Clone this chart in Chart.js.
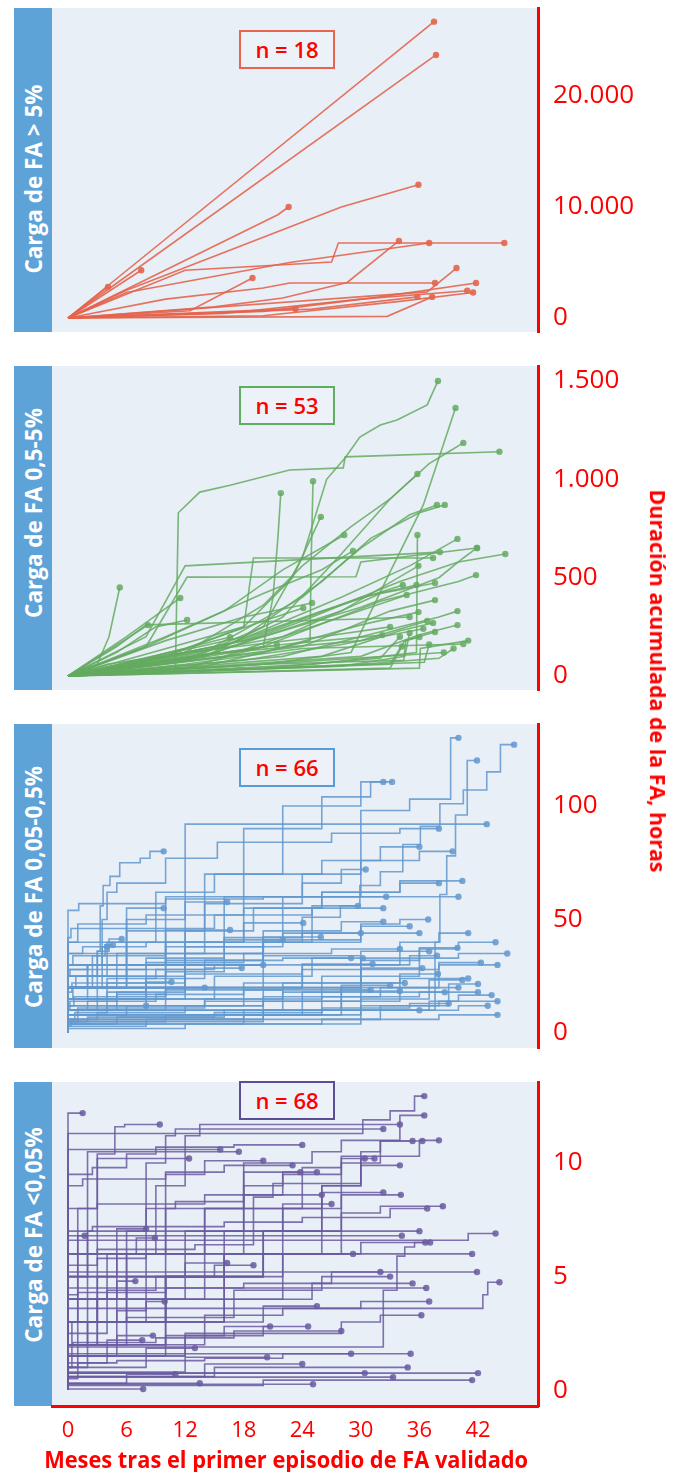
<!DOCTYPE html>
<html lang="es">
<head>
<meta charset="UTF-8">
<title>Duración acumulada de la FA</title>
<script src="https://cdn.jsdelivr.net/npm/chart.js@4.4.1/dist/chart.umd.min.js"></script>
<style>
    body { margin: 0; background: #fff; font-family: "Open Sans", sans-serif; }
    #page { position: relative; width: 681px; height: 1472px; overflow: hidden; }
    canvas { position: absolute; left: 0; }
    .band { position: absolute; left: 14px; width: 38px; height: 324px; background: #5da3d8; }
    .band span {
        position: absolute; left: 19px; white-space: nowrap; color: #fff;
        font-weight: 700; font-size: 22.5px; transform: translate(-50%, -50%) rotate(-90deg);
    }
    .nbox {
        position: absolute; left: 239px; width: 92px; height: 35px; border: 2px solid;
        background: #edf2f8; color: #ff0000; font-weight: 600; font-size: 22px;
        text-align: center; line-height: 35px; z-index: 5;
    }
    .title { position: absolute; color: #ff0000; font-weight: 700; white-space: nowrap; }
</style>
</head>
<body>
<div id="page">
    <div class="band" style="top:8px"><span style="top:171px">Carga de FA &gt; 5%</span></div>
    <div class="band" style="top:366px"><span style="top:147px">Carga de FA 0,5-5%</span></div>
    <div class="band" style="top:724px"><span style="top:163px">Carga de FA 0,05-0,5%</span></div>
    <div class="band" style="top:1082px"><span style="top:153px">Carga de FA &lt;0,05%</span></div>

    <canvas id="c1" width="681" height="404" style="top:-32px"></canvas>
    <canvas id="c2" width="681" height="404" style="top:326px"></canvas>
    <canvas id="c3" width="681" height="404" style="top:684px"></canvas>
    <canvas id="c4" width="681" height="414" style="top:1042px"></canvas>

    <div class="nbox" style="top:30px; border-color:#e8644e">n = 18</div>
    <div class="nbox" style="top:386px; border-color:#5fad5f">n = 53</div>
    <div class="nbox" style="top:748px; border-color:#5b9bd5">n = 66</div>
    <div class="nbox" style="top:1081px; border-color:#5b4e96">n = 68</div>

    <div class="title" id="ytitle" style="font-size:21px">Duración acumulada de la FA, horas</div>
    <div class="title" id="xtitle" style="font-size:24px">Meses tras el primer episodio de FA validado</div>
</div>

<script>
    // meses en el eje x
    const xTicks = [0, 6, 12, 18, 24, 30, 36, 42];

    // ticks de cada panel (horas)
    const ticksP1 = [0, 10000, 20000];
    const ticksP2 = [0, 500, 1000, 1500];
    const ticksP3 = [0, 50, 100];
    const ticksP4 = [0, 5, 10];

    // cada línea: mes, horas, mes, horas ...  (último punto = fin del seguimiento)
    const linesP1 = [
        [0,0, 37.5,26700],
        [0,0, 37.7,23700],
        [0,0, 21.5,9300, 22.6,10000],
        [0,0, 6,2500, 28,10000, 35.9,12000],
        [0,0, 12,4300, 27,5050, 27.7,6760, 44.7,6760],
        [0,0, 6,2300, 22.7,5000, 37,6760],
        [0,0, 15,1000, 22,1800, 28.6,3200, 33.9,6940],
        [0,0, 7.5,4300],
        [0,0, 4.1,2800],
        [0,0, 12.5,650, 18.9,3600],
        [0,0, 36.8,2350, 39.8,4500],
        [0,0, 10,1700, 20,2700, 22.7,3150, 37.6,3150],
        [0,0, 20,600, 32,1900, 41.8,3150],
        [0,0, 16,400, 30,1700, 40.9,2450],
        [0,0, 20,200, 34,1500, 41.5,2300],
        [0,0, 25,800, 35.8,1900],
        [0,0, 32.7,150, 37.3,1900],
        [0,0, 18,650, 23.3,810]
    ];

    const linesP2 = [
        [0,0, 12,80, 20,250, 24,600, 26.5,1000, 28.4,1110, 29.9,1215, 32,1276, 33.7,1302, 36.8,1378, 37.9,1500],
        [0,0, 11,20, 11.3,830, 13.5,935, 16.6,970, 22.7,1047, 28.2,1058, 28.4,1114, 44.2,1140],
        [0,0, 20,60, 29,120, 33,529, 36.4,870, 39.7,1363],
        [0,0, 14,100, 22,300, 28,620, 33,900, 37,1080, 39,1140, 40.5,1185],
        [0,0, 12,120, 20,360, 24,560, 29,760, 33,900, 35.8,1027],
        [0,0, 14,50, 20,120, 24.8,180, 24.9,560, 25.1,990],
        [0,0, 12,40, 20,150, 21,400, 21.5,700, 21.8,930],
        [0,0, 3,60, 4.2,200, 5.3,450],
        [0,0, 10,100, 18,250, 23,500, 25.9,809],
        [0,0, 15,150, 24,400, 30,650, 35,820, 37.8,870],
        [0,0, 18,200, 26,480, 31,700, 36,830, 38.6,870],
        [0,0, 25,60, 35.7,120, 35.8,717],
        [0,0, 16,150, 28,400, 35,560, 39.9,697],
        [0,0, 20,200, 30,350, 38,500, 40.5,600, 41.9,651],
        [0,0, 14,100, 24,280, 34,480, 40,580, 44.8,620],
        [0,0, 8,200, 12,560, 38.1,630],
        [0,0, 10,200, 20,420, 26,540, 29.2,636],
        [0,0, 15,120, 28,330, 35.9,560],
        [0,0, 20,150, 32,380, 40,480, 41.8,513],
        [0,0, 14,120, 26,330, 34.3,463],
        [0,0, 18,180, 30,400, 35.7,463],
        [0,0, 22,200, 32,420, 37.6,473],
        [0,0, 16,100, 28,300, 34.7,412],
        [0,0, 24,150, 33,330, 37.6,386],
        [0,0, 20,120, 30,260, 35.9,325],
        [0,0, 26,100, 34,230, 37.4,270],
        [0,0, 30,100, 36,210, 39.9,259],
        [0,0, 33,60, 34.5,180, 37.6,224],
        [0,0, 20,60, 34.4,80, 34.6,180, 36,198],
        [0,0, 28,50, 34.5,100, 35,219],
        [0,0, 12,60, 24,140, 40.5,163],
        [0,0, 10,80, 22,160, 32.2,208],
        [0,0, 8.2,259],
        [0,0, 6,200, 11.5,397],
        [0,0, 5,120, 9,250, 12.2,285],
        [0,0, 8,90, 16.6,198],
        [0,0, 12,80, 21.4,158],
        [0,0, 12,140, 20,280, 24.1,346],
        [0,0, 10,180, 18,300, 25,371],
        [0,0, 8,150, 16,330, 22,540, 28.3,717],
        [0,0, 8,150, 12.2,503, 29.5,505, 30,580, 41.9,651],
        [0,0, 18,250, 19,600, 37.4,600],
        [0,0, 5,150, 8,260, 30,290, 35,300],
        [0,0, 36,40, 36.1,140, 41,180],
        [0,0, 30,60, 38,90, 39.5,140],
        [0,0, 20,40, 32,90, 34,200],
        [0,0, 15,30, 36.5,70, 37,160],
        [0,0, 10,30, 20,60, 38.5,120],
        [0,0, 25,30, 33,40, 34.2,150],
        [0,0, 18,80, 28,160, 36.4,240],
        [0,0, 22,100, 30,200, 38,300, 39.9,330],
        [0,0, 5,40, 14,110, 30,180, 36.8,280],
        [0,0, 4,60, 12,120, 26,200, 33,250]
    ];

    const linesP3 = [
        [0,0, 5,10, 12,18, 22,40, 30,60, 35,98, 39.2,103, 40,130],
        [0,0, 20,5, 37.6,10, 38.1,40, 38.8,61, 39.7,78, 40.9,96, 41.9,120],
        [0,0, 12,15, 20,30, 24,40, 27.9,51, 29.9,56, 32,65, 34.3,71, 36.1,83, 38.1,91, 40.5,101, 42.9,107, 44.3,115, 45.7,127],
        [0,0, 8,10, 12,20, 15.3,92, 42.9,92],
        [0,0, 3,10, 3.3,36, 3.6,56, 4.3,65, 5.3,69, 7.4,75, 8.4,77, 9.8,80],
        [0,0, 1.1,54, 10,57, 20,59, 32.6,60],
        [0,0, 6,20, 14,45, 24,57, 30,60, 40,60],
        [0,0, 10,30, 18,60, 26,90, 31,104, 32.3,110.6],
        [0,0, 14,35, 22,70, 30,100, 33.2,110.6],
        [0,0, 16,30, 24,60, 30,70, 36,76, 39.4,80],
        [0,0, 18,40, 26,55, 34,62, 40.4,67],
        [0,0, 10,20, 20,35, 28,45, 32.3,49],
        [0,0, 12,25, 22,38, 30,44, 35,47],
        [0,0, 20,30, 30,40, 34,48, 36.9,50],
        [0,0, 24,20, 34,30, 38,40, 41,44],
        [0,0, 26,15, 36,25, 40,37, 43.8,40],
        [0,0, 18,12, 30,22, 36,32, 39.9,37.5],
        [0,0, 22,10, 30,20, 35,30, 37.8,34],
        [0,0, 15,15, 25,25, 30.2,33],
        [0,0, 10,10, 24,20, 31.2,30.4],
        [0,0, 28,10, 38,20, 42.3,31],
        [0,0, 20,12, 30,20, 36.3,28.6],
        [0,0, 24,10, 34,18, 37.9,26],
        [0,0, 30,8, 37,15, 40.4,23.4],
        [0,0, 32,6, 39,12, 42,21.6],
        [0,0, 30,4, 37,10, 40,14, 43.4,16.7],
        [0,0, 26,8, 34,14, 38.6,18],
        [0,0, 20,6, 30,14, 34.5,22],
        [0,0, 18,4, 28,10, 34,18.5],
        [0,0, 20,20, 25,40, 29.7,56],
        [0,0, 2,15, 3.5,30, 4,38],
        [0,0, 2.5,20, 3.8,34, 4.6,38.8],
        [0,0, 3,25, 4.2,36, 5.5,41.4],
        [0,0, 4,25, 6,40, 9.8,55],
        [0,0, 6,30, 12,50, 16.3,57.7],
        [0,0, 5,20, 10,35, 16.6,45.4],
        [0,0, 10,25, 18,40, 24.1,48.5],
        [0,0, 8,20, 16,33, 22,41],
        [0,0, 12,20, 20,35, 25.9,42.3],
        [0,0, 4,10, 8,18, 10.6,22.5],
        [0,0, 8,15, 14,24, 17.8,28.6],
        [0,0, 0.3,42, 15,46, 25,52, 32.3,55],
        [0,0, 0.5,30, 10,34, 20,38, 30,41, 36,44],
        [0,0, 0.2,25, 8,28, 18,31, 27,35, 34,37],
        [0,0, 0.4,18, 12,22, 24,26, 38,28, 44,30],
        [0,0, 0.6,12, 10,16, 22,19, 34,22, 41,24],
        [0,0, 1,8, 14,11, 26,14, 36,16, 42,18],
        [0,0, 2,5, 16,7, 30,10, 38,12, 44,14],
        [0,0, 0.8,20, 6,25, 14,28, 22,32, 29,33],
        [0,0, 1.5,35, 8,38, 16,40, 24,42, 30,44],
        [0,0, 2,28, 10,30, 20,32, 30,34, 37,36],
        [0,0, 0.2,10, 9,14, 18,17, 28,19, 33,21],
        [0,0, 3,6, 12,9, 20,12, 32,16, 40,20],
        [0,0, 5,4, 15,7, 26,9, 35,11, 39,13],
        [0,0, 3.5,20, 4,50, 5,62, 10,66, 15.3,77, 27,84, 34,88, 38,90],
        [0,0, 6,20, 9,40, 15,62, 26,70, 32,76, 36,82],
        [0,0, 1,40, 8,48, 18,52, 24,60, 28,66, 30.5,72],
        [0,0, 2,20, 12,30, 19,45, 26,55, 34,62, 38,66],
        [0,0, 4,15, 10,22, 16,27, 30,30, 40,33, 45,35],
        [0,0, 1,5, 6,8, 14,12, 22,15, 28,18, 31,19],
        [0,0, 8,3, 18,6, 28,8, 40,10, 43,12],
        [0,0, 0.3,3, 10,5, 24,8, 36,10],
        [0,0, 12,2, 26,4, 38,6, 44,8],
        [0,0, 0.5,15, 4,20, 9,24, 15,28, 20,30],
        [0,0, 2,10, 5,14, 10,17, 14,20],
        [0,0, 0.7,6, 4,9, 8,12]
    ];

    const linesP4 = [
        [0,0, 1.2,12.2, 1.5,12.2],
        [0,0, 3,3, 4.8,10.4, 5.8,11.6, 9.4,11.7],
        [0,0, 3,2, 6,4, 8,7, 10,10, 11,11.2, 14,11.5, 32.3,11.5],
        [0,0, 5,3, 9,6, 12,9, 13.5,11.2, 20,11.7, 34,11.7],
        [0,0, 30.2,11.3, 33,11.9, 35.5,12.3, 36.5,12.95],
        [0,0, 10,4, 18,8, 25,10, 28,10.5, 34,11, 36.5,12.1],
        [0,0, 0.3,10.6, 15.6,10.6],
        [0,0, 2,8, 6,10.5, 17.5,10.5],
        [0,0, 1,5, 3,8, 5,10.2, 12.4,10.2],
        [0,0, 6,2, 10,6, 14,9.5, 20,10.1],
        [0,0, 8,3, 14,6, 18,8, 22,9.6, 23.8,9.6],
        [0,0, 12,4, 18,7, 22,9, 25.5,9.6],
        [0,0, 10,2, 16,5, 22,7, 27,8.2],
        [0,0, 20,5, 26,7, 30,9, 32,10.5, 35.3,10.97],
        [0,0, 22,4, 28,8, 32,10, 36.3,10.97],
        [0,0, 14,4, 24,8, 28,9.8, 30.4,10.2],
        [0,0, 16,3, 26,6, 30,9, 31.4,10.2],
        [0,0, 18,6, 26,8, 32.3,8.7],
        [0,0, 20,5, 28,7, 34.1,8.6],
        [0,0, 0.5,6.8, 34.2,6.8],
        [0,0, 1,3, 1.7,6.8],
        [0,0, 3,3, 5,5, 8,7.1],
        [0,0, 4,4, 7,6, 8.9,6.7],
        [0,0, 6,3, 12,5, 16.3,5.6],
        [0,0, 3,2, 5,4, 6.9,4.8],
        [0,0, 5,2, 8,3.5, 9.9,3.9],
        [0,0, 14,2, 20,3, 25.5,3.7],
        [0,0, 10,1.5, 16,2.4, 20.7,2.8],
        [0,0, 12,1.5, 20,2.4, 24.6,2.8],
        [0,0, 4,1.2, 7.6,2.2],
        [0,0, 5,1.5, 8.7,2.4],
        [0,0, 8,1, 13,1.85],
        [0,0, 12,0.8, 20.4,1.45],
        [0,0, 14,0.6, 24,1.15],
        [0,0, 6,0.3, 11,0.7],
        [0,0, 13.5,0.3],
        [0,0, 25.1,0.26],
        [0,0, 7.7,0.05],
        [0,0, 16,3, 28,6, 32,7.8, 38.4,8.1],
        [0,0, 0.2,7, 36,7],
        [0,0, 0.3,6.6, 41,6.6, 42,6.9, 43.8,6.9],
        [0,0, 20,1.9, 32.3,1.9, 33.7,4.4, 34.5,5.9, 35.5,6.3, 36.6,6.5],
        [0,0, 10,3, 20,5, 30,6, 37.1,6.5],
        [0,0, 10,3, 22,5, 29.2,6.0],
        [0,0, 0.4,6.0, 41.4,6.0],
        [0,0, 0.5,5.2, 20,5.2, 41.9,5.2],
        [0,0, 0.6,3.6, 42.5,3.6, 43,4.2, 44.2,4.75],
        [0,0, 10,2, 25,4, 35.3,4.7],
        [0,0, 0.3,4.5, 36.7,4.5],
        [0,0, 12,1.5, 28,2.5, 32,3.0, 36.2,3.3],
        [0,0, 0.2,1.6, 35.1,1.6],
        [0,0, 15,0.6, 30,1.0, 34.8,1.0],
        [0,0, 0.3,0.75, 42,0.75],
        [0,0, 20,0.2, 35,0.44, 41.4,0.44],
        [0,0, 0.5,0.57, 33.3,0.57],
        [0,0, 0.4,0.75, 30.4,0.75],
        [0,0, 1,1, 2,5, 3,8, 14,8.2, 22,8.6, 28,9.5, 36,10.3, 38,11],
        [0,0, 2,2, 2.5,7, 16,7.2, 24,7.4, 33,7.6, 36.8,8],
        [0,0, 1,4.2, 10,4.3, 18,4.5, 27,4.7, 32,5.2],
        [0,0, 4,2.5, 14,3, 22,3.3, 30,3.6, 37,3.9],
        [0,0, 3,6, 13,6.2, 19,6.4, 21,8.5, 30,9.1, 34,9.9],
        [0,0, 2,1, 6,3, 17,3.2, 26,4.4, 33,5.0],
        [0,0, 0.5,2, 9,2.1, 17,2.3, 28,2.6],
        [0,0, 1.5,9, 10,9.3, 16,9.6, 23,9.9],
        [0,0, 1,0.5, 5,1.2, 14,1.3, 22,1.4, 29,1.6],
        [0,0, 3,5.5, 8,5.8, 11,8, 18,8.3, 26,8.6],
        [0,0, 0.4,1, 4,3, 9,4.4, 15,5, 19,5.5],
        [0,0, 2.5,9.5, 6,9.8, 9,10.4, 17,10.7, 24,10.8]
    ];

    const RED = '#ff0000';
    const PLOT_BG = '#e8eff7';

    const plotBg = {
        id: 'plotBg',
        beforeDraw(chart) {
            const a = chart.chartArea, ctx = chart.ctx;
            ctx.save();
            ctx.fillStyle = PLOT_BG;
            ctx.fillRect(a.left, a.top, a.right - a.left, a.bottom - a.top);
            ctx.restore();
        }
    };

    function fmt(v) {
        return String(v).replace(/\B(?=(\d{3})+(?!\d))/g, '.');
    }

    function makePanel(id, lines, color, yMin, yMax, yTicks, stepped, showX) {
        const datasets = lines.map(l => {
            const pts = [];
            for (let i = 0; i < l.length; i += 2) pts.push({ x: l[i], y: l[i + 1] });
            return {
                data: pts,
                borderColor: color,
                backgroundColor: color,
                borderWidth: 1.6,
                stepped: stepped ? 'after' : false,
                tension: 0,
                pointRadius: c => c.dataIndex === pts.length - 1 ? 3.2 : 0,
                pointHoverRadius: 0,
                pointBorderWidth: 0
            };
        });

        new Chart(document.getElementById(id), {
            type: 'line',
            data: { datasets },
            options: {
                responsive: false,
                animation: false,
                events: [],
                layout: { padding: { left: 52, right: 0, top: 40, bottom: showX ? 0 : 40 } },
                plugins: { legend: { display: false }, tooltip: { enabled: false } },
                scales: {
                    x: {
                        type: 'linear',
                        min: -1.64,
                        max: 48.15,
                        display: showX,
                        afterBuildTicks: s => { s.ticks = xTicks.map(v => ({ value: v })); },
                        afterFit: s => { if (showX) s.height = 50; },
                        grid: { display: false, drawTicks: false },
                        border: { display: true, color: RED, width: 3 },
                        ticks: {
                            color: RED, padding: 12, maxRotation: 0, autoSkip: false,
                            font: { family: 'Open Sans', size: 22 }
                        }
                    },
                    y: {
                        type: 'linear',
                        position: 'right',
                        min: yMin,
                        max: yMax,
                        afterBuildTicks: s => { s.ticks = yTicks.map(v => ({ value: v })); },
                        afterFit: s => { s.width = 143; },
                        grid: { display: false, drawTicks: false },
                        border: { display: true, color: RED, width: 3 },
                        ticks: {
                            color: RED, padding: 15, autoSkip: false,
                            font: { family: 'Open Sans', size: 26 },
                            callback: v => fmt(v)
                        }
                    }
                }
            },
            plugins: [plotBg]
        });
    }

    makePanel('c1', linesP1, 'rgba(228,100,76,0.9)', -1261, 27928, ticksP1, false, false);
    makePanel('c2', linesP2, 'rgba(100,170,96,0.85)', -71, 1576, ticksP2, false, false);
    makePanel('c3', linesP3, 'rgba(98,152,206,0.85)', -6.6, 136.1, ticksP3, true, false);
    makePanel('c4', linesP4, 'rgba(106,90,160,0.85)', -0.70, 13.57, ticksP4, true, true);

    // ajustar títulos al ancho de la figura original
    function fit(el, target, cx, cy, rot) {
        const w = el.getBoundingClientRect().width;
        const h = el.getBoundingClientRect().height;
        el.style.left = (cx - w / 2) + 'px';
        el.style.top = (cy - h / 2) + 'px';
        el.style.transform = (rot ? 'rotate(90deg) ' : '') + 'scaleX(' + (target / w) + ')';
    }
    fit(document.getElementById('ytitle'), 383, 658, 681, true);
    fit(document.getElementById('xtitle'), 484, 286, 1458, false);
</script>
</body>
</html>
